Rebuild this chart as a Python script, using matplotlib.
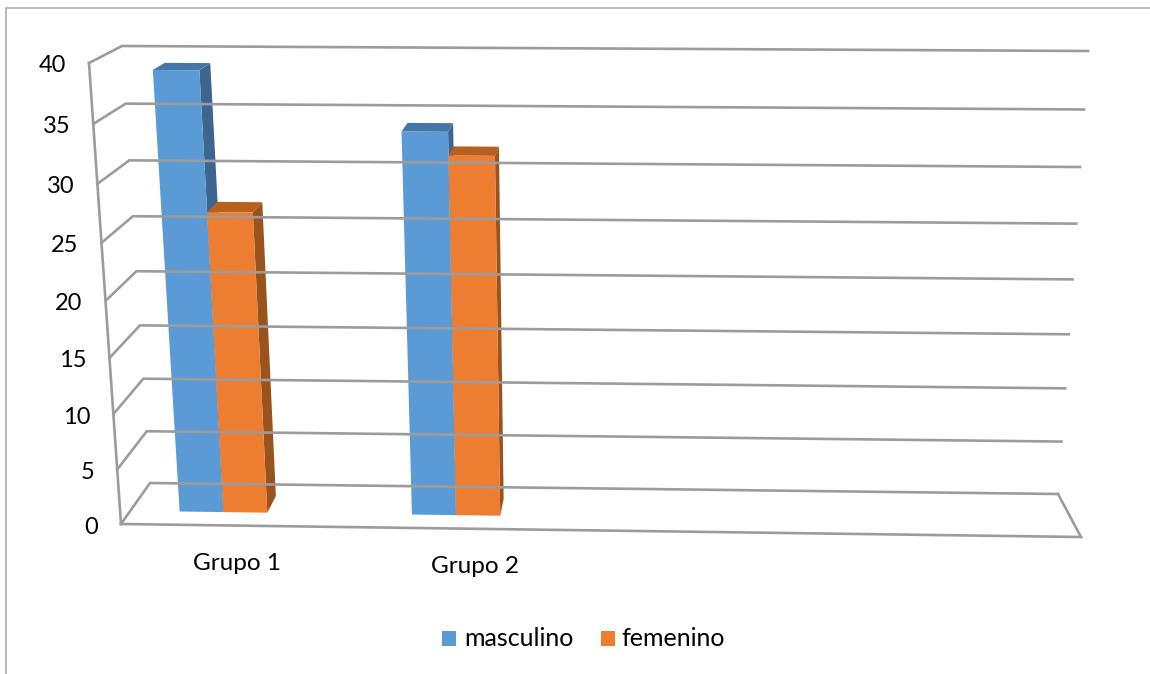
import numpy as np
import matplotlib
matplotlib.use('Agg')
import matplotlib.pyplot as plt
from matplotlib.patches import Polygon, Rectangle

categories = ['Grupo 1', 'Grupo 2']
masculino = [39, 34]
femenino = [27, 32]
y_ticks = [0, 5, 10, 15, 20, 25, 30, 35, 40]
series_names = ['masculino', 'femenino']

BLUE = '#5B9BD5'
BLUE_TOP = '#4477A8'
BLUE_SIDE = '#3C6690'
ORANGE = '#ED7D31'
ORANGE_TOP = '#B8601F'
ORANGE_SIDE = '#99541E'
GRID = '#9C9C9C'
FRAME = '#B4B4B4'

plt.rcParams['font.family'] = ['Lato', 'DejaVu Sans']


def homography(corners):
    # maps (u, v/40) on a unit square to pixel positions
    src = [(0, 0), (1, 0), (1, 1), (0, 1)]
    rows, rhs = [], []
    for (u, v), (x, y) in zip(src, corners):
        rows.append([u, v, 1, 0, 0, 0, -u * x, -v * x])
        rows.append([0, 0, 0, u, v, 1, -u * y, -v * y])
        rhs += [x, y]
    h = np.linalg.solve(np.array(rows, float), np.array(rhs, float))
    return np.append(h, 1).reshape(3, 3)


front = homography([(121, 524), (1081, 537), (1113, 70), (89, 63)])
back = homography([(150, 483), (1058, 494), (1088, 51), (122, 46)])


def project(u, value, depth):
    # depth 0 is the front of the box, depth 1 the back wall
    p = np.array([u, value / y_ticks[-1], 1.0])
    a = front @ p
    b = back @ p
    return (1 - depth) * a[:2] / a[2] + depth * b[:2] / b[2]


def draw_bar(ax, u0, u1, value, face, top, side):
    d0, d1 = 0.32, 0.72
    ax.add_patch(Polygon([project(u1, 0, d0), project(u1, 0, d1),
                          project(u1, value, d1), project(u1, value, d0)],
                         fc=side, ec='none'))
    ax.add_patch(Polygon([project(u0, value, d0), project(u1, value, d0),
                          project(u1, value, d1), project(u0, value, d1)],
                         fc=top, ec='none'))
    ax.add_patch(Polygon([project(u0, 0, d0), project(u1, 0, d0),
                          project(u1, value, d0), project(u0, value, d0)],
                         fc=face, ec='none'))


fig = plt.figure(figsize=(11.5, 6.74), dpi=100)
ax = fig.add_axes([0, 0, 1, 1])
ax.set_xlim(0, 1150)
ax.set_ylim(674, 0)
ax.axis('off')

# outer chart border, only the top and left edges are in view
ax.plot([5.5, 5.5, 1150], [674, 7.5, 7.5], color=FRAME, lw=1.3)

# gridlines on the back wall and the left wall
for tick in y_ticks:
    pts = np.array([project(0, tick, 0), project(0, tick, 1), project(1, tick, 1)])
    ax.plot(pts[:, 0], pts[:, 1], color=GRID, lw=1.9, solid_joinstyle='miter')
    ax.text(pts[0, 0] - 23, pts[0, 1] + 3, str(tick), ha='right', va='center',
            fontsize=17, color='black')

# floor outline and the front edge of the left wall
pts = np.array([project(0, 0, 0), project(1, 0, 0), project(1, 0, 1)])
ax.plot(pts[:, 0], pts[:, 1], color=GRID, lw=1.9, solid_joinstyle='miter')
pts = np.array([project(0, y_ticks[-1], 0), project(0, 0, 0)])
ax.plot(pts[:, 0], pts[:, 1], color=GRID, lw=1.9)

# bars, one group per quarter of the floor width
group_centers = [0.100, 0.3485]
bar_width = 0.047
for i, name in enumerate(categories):
    c = group_centers[i]
    draw_bar(ax, c - bar_width, c, masculino[i], BLUE, BLUE_TOP, BLUE_SIDE)
    draw_bar(ax, c, c + bar_width, femenino[i], ORANGE, ORANGE_TOP, ORANGE_SIDE)
    foot = project(c, 0, 0)
    ax.text(foot[0] + 21 + i, foot[1] + 38, name, ha='center', va='center',
            fontsize=17.5, color='black')

# legend
ax.add_patch(Rectangle((442, 631), 14, 15, fc=BLUE, ec='none'))
ax.text(464, 639, series_names[0], va='center', fontsize=18, color='black')
ax.add_patch(Rectangle((601, 631), 14, 15, fc=ORANGE, ec='none'))
ax.text(621, 639, series_names[1], va='center', fontsize=18, color='black')

fig.savefig('out.png', dpi=100)
